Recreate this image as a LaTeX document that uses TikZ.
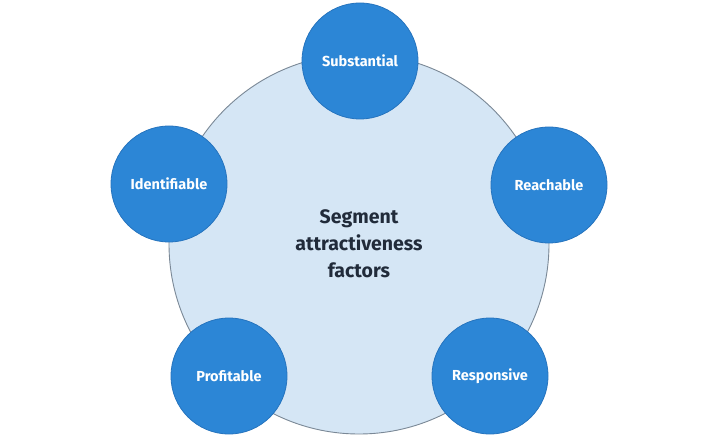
\documentclass[tikz,border=0pt]{standalone}
\usepackage{fontspec}
\setmainfont{Fira Sans}
\usepackage{xcolor}
\usepackage{tikz}
\usetikzlibrary{positioning}

\definecolor{factorblue}{RGB}{44,134,214}
\definecolor{factoredge}{RGB}{38,116,190}
\definecolor{segfill}{RGB}{213,230,245}
\definecolor{segedge}{RGB}{122,136,150}
\definecolor{segtext}{RGB}{33,43,58}

\begin{document}
\begin{tikzpicture}[x=1pt,y=1pt,
  factor/.style={circle,draw=factoredge,fill=factorblue,line width=0.8pt,inner sep=0pt,minimum size=116pt,text=white,font=\fontsize{14.5}{16}\selectfont\bfseries},
  segment/.style={circle,draw=segedge,fill=segfill,line width=0.9pt,inner sep=0pt,minimum size=380pt,text=segtext,align=center,font=\fontsize{19.5}{27}\selectfont\bfseries}
]
\useasboundingbox[fill=white] (0,0) rectangle (720,437);
\node[segment] (seg) at (359,193) {Segment\\attractiveness\\factors};
\node[factor] (subst) at (360,376) {Substantial};
\node[factor] (ident) at (169,253) {Identifiable};
\node[factor] (reach) at (549,252) {Reachable};
\node[factor] (profit) at (229,61) {Profitable};
\node[factor] (resp) at (490,61) {Responsive};
\end{tikzpicture}
\end{document}
